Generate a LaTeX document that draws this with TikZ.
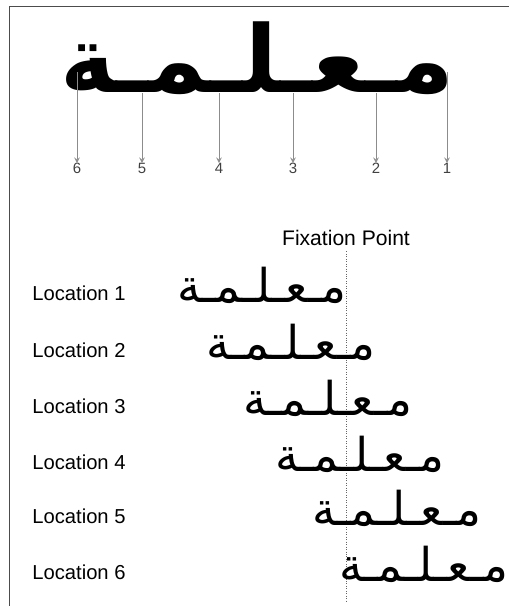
\documentclass[tikz,border=0pt]{standalone}
\usepackage{fontspec}
\setmainfont{Liberation Sans}
\newfontfamily\arabicfont[Script=Arabic]{DejaVu Sans}
\TeXXeTstate=1
\usetikzlibrary{positioning}
\newcommand{\mword}{\arabicfont\beginR مـعـلـمـة\endR}
\tikzset{
	bigword/.style = {inner sep=0pt, anchor=base east, font=\fontsize{53}{60}\bfseries},
	word/.style    = {inner sep=0pt, anchor=base east, font=\fontsize{26.5}{30}\selectfont},
	place/.style   = {inner sep=0pt, anchor=base west, font=\fontsize{11.5}{13}\selectfont},
	digit/.style   = {inner sep=0pt, anchor=north, text=black!75, font=\fontsize{8.5}{9}\selectfont},
	pointer/.style = {draw=black!45, ->, >=stealth, thin},
	hidden/.style  = {coordinate},
}

\begin{document}
\begin{tikzpicture}[x=0.02cm, y=-0.02cm]
	\useasboundingbox (0,0) rectangle (509,606);
	% frame
	\draw[black!70] (509,6) -- (9,6) -- (9,606);

	% the big word and its positions
	\node[bigword] (big) at (455,92) {\mword};
	\foreach \n/\x/\y in {1/447/72, 2/376/93, 3/293/93, 4/219/93, 5/142/93, 6/77/72} {
		\node[hidden] (top\n) at (\x,\y) {};
		\node[digit]  (num\n) at (\x,163) {\n};
		\draw[pointer] (top\n) -- (num\n.north);
	}

	% fixation point
	\node[font=\fontsize{12}{14}\selectfont, anchor=base] (fix) at (346,245) {Fixation Point};
	\node[hidden] (fixbot) at (fix.south |- 0,603) {};
	\draw[densely dotted, black!60] (fix.south) -- (fixbot);

	% the six locations
	\foreach \n/\x/\y in {1/347/302, 2/376/359, 3/413/415, 4/445/471, 5/482/525, 6/509/581} {
		\node[place] (loc\n) at (32,\y-2) {Location \n};
		\node[word]  (word\n) at (\x,\y) {\mword};
	}
\end{tikzpicture}
\end{document}
